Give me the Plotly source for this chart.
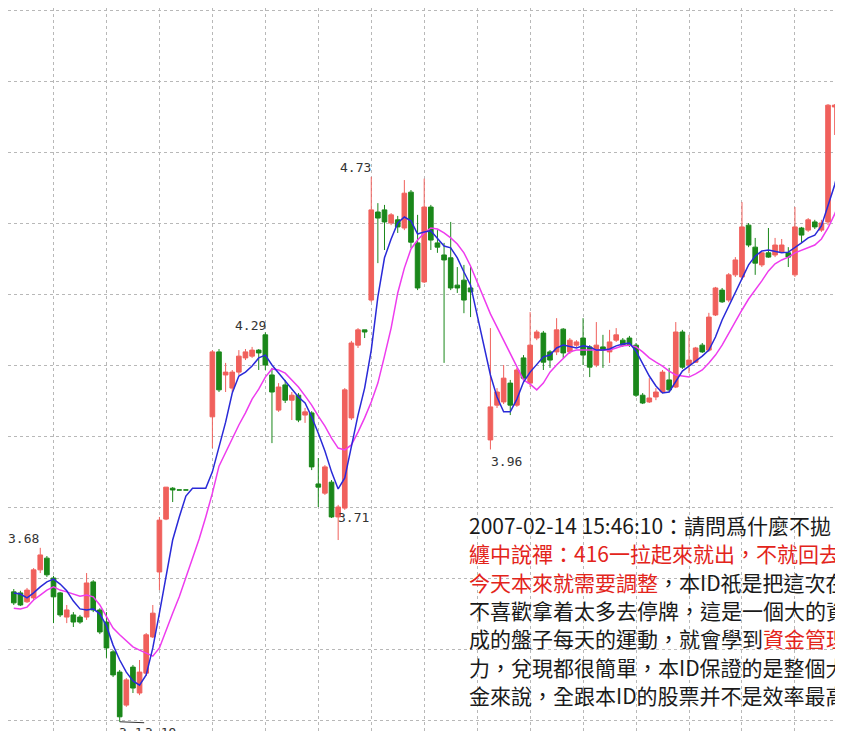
import plotly.graph_objects as go

# ---------------- data ----------------
day_index = list(range(126))

opens = [3.561,3.558,3.533,3.544,3.623,3.656,3.600,3.558,3.490,3.496,
         3.490,3.490,3.589,3.510,3.476,3.392,3.335,3.242,3.349,3.276,
         3.332,3.434,3.617,3.766,3.853,3.848,3.848,None,None,None,
         4.054,4.237,4.172,4.135,4.180,4.220,4.225,4.242,4.285,4.172,
         4.073,4.144,4.101,4.115,4.059,4.065,3.865,3.839,3.870,3.772,
         3.797,4.051,4.256,4.299,4.383,4.631,4.637,4.600,4.609,4.586,
         4.687,4.544,4.434,4.645,4.544,4.510,4.502,4.425,4.439,4.417,
         None,None,3.989,4.087,4.096,4.149,4.087,4.220,4.149,4.276,
         4.290,4.237,4.237,4.301,4.237,4.256,4.276,4.251,4.200,4.251,
         4.237,4.270,4.270,4.276,4.256,4.115,4.096,4.110,4.124,4.158,
         4.138,4.293,4.200,4.208,4.256,4.242,4.341,4.411,4.383,4.454,
         4.448,4.594,4.532,4.482,4.516,4.510,4.518,4.516,4.454,4.586,
         4.580,4.603,4.580,4.603,4.927,4.935]

highs = [3.569,3.564,3.572,3.628,3.685,3.662,3.606,3.561,3.524,3.504,
         3.496,3.614,3.594,3.515,3.504,3.397,3.341,3.318,3.355,3.369,
         3.445,3.524,3.772,3.856,3.856,3.848,3.848,None,None,None,
         4.242,4.245,4.206,4.186,4.242,4.245,4.251,4.245,4.292,4.192,
         4.149,4.158,4.124,4.121,4.079,4.070,3.938,3.918,3.876,3.806,
         4.135,4.268,4.304,4.299,4.730,4.656,4.651,4.628,4.620,4.721,
         4.693,4.623,4.725,4.651,4.580,4.544,4.603,4.476,4.482,4.476,
         None,None,4.304,4.135,4.200,4.158,4.192,4.228,4.349,4.299,
         4.296,4.242,4.332,4.304,4.276,4.270,4.332,4.256,4.321,4.285,
         4.299,4.304,4.276,4.282,4.262,4.121,4.163,4.135,4.186,4.192,
         4.321,4.299,4.285,4.251,4.262,4.347,4.420,4.417,4.459,4.504,
         4.659,4.600,4.558,4.518,4.586,4.558,4.555,4.532,4.645,4.589,
         4.614,4.609,4.609,4.935,4.935,4.935]

lows = [3.524,3.521,3.530,3.538,3.614,3.603,3.473,3.490,3.473,3.462,
        3.471,3.482,3.504,3.442,3.375,3.321,3.195,3.237,3.276,3.270,
        3.324,3.431,3.566,3.763,3.814,3.848,3.848,None,None,None,
        3.966,4.124,4.124,4.124,4.172,4.214,4.220,4.186,4.186,3.980,
        4.068,4.093,4.045,4.039,4.037,3.904,3.800,3.834,3.769,3.707,
        3.792,4.045,4.248,4.276,4.377,4.487,4.524,4.594,4.572,4.580,
        4.530,4.411,4.431,4.524,4.516,4.206,4.411,4.403,4.346,4.335,
        None,None,3.962,4.079,4.090,4.059,4.082,4.158,4.138,4.270,
        4.186,4.192,4.228,4.220,4.231,4.251,4.200,4.166,4.194,4.192,
        4.206,4.265,4.251,4.251,4.110,4.090,4.093,4.101,4.121,4.124,
        4.135,4.189,4.177,4.206,4.234,4.237,4.338,4.375,4.377,4.448,
        4.440,4.532,4.454,4.476,4.502,4.504,4.516,4.476,4.448,4.544,
        4.575,4.583,4.575,4.594,4.848,4.927]

closes = [3.530,3.524,3.566,3.623,3.665,3.609,3.547,3.496,3.510,3.476,
          3.476,3.586,3.510,3.448,3.403,3.327,3.209,3.313,3.290,3.335,
          3.440,3.501,3.763,3.856,3.848,3.848,3.848,None,None,None,
          4.237,4.130,4.180,4.180,4.225,4.237,4.242,4.234,4.200,4.124,
          4.138,4.101,4.115,4.045,4.068,3.913,3.856,3.913,3.772,3.800,
          4.130,4.262,4.299,4.293,4.637,4.614,4.603,4.623,4.589,4.684,
          4.546,4.417,4.645,4.552,4.532,4.496,4.417,4.417,4.383,4.406,
          None,None,4.082,4.124,4.163,4.087,4.186,4.163,4.256,4.293,
          4.208,4.214,4.299,4.234,4.270,4.265,4.228,4.194,4.256,4.242,
          4.265,4.285,4.256,4.256,4.115,4.093,4.107,4.124,4.180,4.130,
          4.293,4.194,4.214,4.248,4.237,4.335,4.417,4.378,4.454,4.496,
          4.589,4.538,4.487,4.516,4.504,4.538,4.538,4.504,4.589,4.566,
          4.609,4.589,4.600,4.932,4.932,4.930]

ma_short = [3.558,3.555,3.544,3.558,3.575,3.589,3.597,3.583,3.564,3.535,
            3.513,3.510,3.513,3.499,3.465,3.411,3.369,3.335,3.310,3.298,
            3.327,3.403,3.501,3.609,3.707,3.772,3.831,3.853,3.853,3.853,
            3.899,3.972,4.039,4.121,4.169,4.180,4.197,4.220,4.228,4.200,
            4.177,4.155,4.130,4.110,4.093,4.054,4.008,3.958,3.899,3.851,
            3.882,3.975,4.059,4.135,4.242,4.392,4.502,4.555,4.600,4.617,
            4.606,4.569,4.575,4.578,4.558,4.535,4.530,4.502,4.462,4.425,
            None,None,4.172,4.110,4.068,4.068,4.104,4.152,4.180,4.203,
            4.223,4.228,4.248,4.256,4.251,4.248,4.254,4.251,4.242,4.242,
            4.245,4.254,4.259,4.262,4.239,4.203,4.169,4.141,4.121,4.124,
            4.152,4.183,4.197,4.211,4.225,4.242,4.279,4.327,4.366,4.403,
            4.445,4.482,4.507,4.521,4.524,4.521,4.516,4.518,4.530,4.544,
            4.558,4.566,4.592,4.648,4.707,4.783]

ma_long = [3.515,3.513,3.518,3.538,3.552,3.566,3.575,3.566,3.561,3.555,
           3.549,3.552,3.547,3.524,3.493,3.459,3.440,3.423,3.406,3.397,
           3.389,3.380,3.403,3.454,3.501,3.547,3.600,3.656,3.710,3.772,
           3.839,3.915,3.955,3.994,4.031,4.065,4.104,4.132,4.166,4.189,
           4.186,4.177,4.158,4.138,4.113,4.087,4.056,4.028,3.994,3.966,
           3.961,3.975,4.011,4.051,4.096,4.149,4.225,4.304,4.403,4.473,
           4.527,4.552,4.572,4.586,4.583,4.572,4.558,4.541,4.516,4.479,
           None,None,4.344,4.307,4.270,4.231,4.197,4.158,4.146,4.130,
           4.149,4.180,4.200,4.220,4.237,4.242,4.242,4.242,4.242,4.242,
           4.242,4.248,4.254,4.256,4.251,4.237,4.220,4.208,4.197,4.183,
           4.172,4.169,4.166,4.175,4.186,4.206,4.228,4.256,4.290,4.324,
           4.355,4.386,4.411,4.437,4.465,4.485,4.496,4.504,4.516,4.524,
           4.530,4.538,4.555,4.586,4.625,4.670]

# price labels: (text, day index, price)
price_labels = [("3.68", 4, 3.685), ("4.29", 38, 4.292), ("4.73", 54, 4.730),
                ("3.71", 49, 3.707), ("3.96", 72, 3.962), ("3.19", 16, 3.195),
                ("3.1", 16, 3.195)]

text_lines = [
    '2007-02-14 15:46:10：請問爲什麼不拋',
    '<span style="color:#e3241b">纏中說禪：416一拉起來就出，不就回去</span>',
    '<span style="color:#e3241b">今天本來就需要調整</span>，本ID祇是把這次在',
    '不喜歡拿着太多去停牌，這是一個大的資',
    '成的盤子每天的運動，就會學到<span style="color:#e3241b">資金管理</span>',
    '力，兌現都很簡單，本ID保證的是整個大',
    '金來說，全跟本ID的股票并不是效率最高',
]

RED = "#f0605c"
GREEN = "#1a871a"
PAGE_OFF = 8  # the page body adds an 8px margin around the figure
W, H = 843, 731

fig = go.Figure()
fig.add_trace(go.Candlestick(
    x=day_index, open=opens, high=highs, low=lows, close=closes,
    increasing=dict(line=dict(color=RED, width=1), fillcolor=RED),
    decreasing=dict(line=dict(color=GREEN, width=1), fillcolor=GREEN),
    whiskerwidth=0, showlegend=False, hoverinfo="skip"))
fig.add_trace(go.Scatter(x=day_index, y=ma_long, mode="lines", connectgaps=True,
                         line=dict(color="#ee3cee", width=1.5), showlegend=False,
                         hoverinfo="skip"))
fig.add_trace(go.Scatter(x=day_index, y=ma_short, mode="lines", connectgaps=True,
                         line=dict(color="#2a2ad8", width=1.5), showlegend=False,
                         hoverinfo="skip"))

lab_font = dict(family="DejaVu Sans Mono", size=13, color="#333333")
anchors = {
    "3.68": dict(xanchor="right", yanchor="bottom", xshift=1, yshift=0),
    "4.29": dict(xanchor="right", yanchor="bottom", xshift=3, yshift=-3),
    "4.73": dict(xanchor="right", yanchor="bottom", xshift=2, yshift=0),
    "3.71": dict(xanchor="left", yanchor="bottom", xshift=-2, yshift=13),
    "3.96": dict(xanchor="left", yanchor="top", xshift=-1, yshift=-2),
    "3.19": dict(xanchor="left", yanchor="top", xshift=23, yshift=-1),
    "3.1": dict(xanchor="left", yanchor="top", xshift=-3, yshift=-1),
}
for txt, i, p in price_labels:
    fig.add_annotation(x=i, y=p, text=txt, showarrow=False, font=lab_font, **anchors[txt])
# leader line from the 3.19 low to its label
fig.add_annotation(x=16, y=3.195, text="", showarrow=True, arrowhead=0,
                   arrowwidth=1, arrowcolor="#333333", ax=26, ay=1,
                   standoff=0, startstandoff=0)

line_y = [525, 553, 582, 610, 638, 667, 695]
for t, yy in zip(text_lines, line_y):
    fig.add_annotation(xref="paper", yref="paper", x=(467 - PAGE_OFF) / W,
                       y=1 - (yy - PAGE_OFF) / H,
                       text=t, showarrow=False, xanchor="left", yanchor="middle",
                       align="left",
                       font=dict(family="Noto Sans CJK TC", size=21, color="#1a1a1a"))

fig.update_layout(
    width=W, height=H, margin=dict(l=0, r=0, t=0, b=0),
    paper_bgcolor="white", plot_bgcolor="white",
    boxgap=0.0,
    xaxis=dict(range=[-0.873, 126.47], showgrid=True, gridcolor="#b8b8b8",
               griddash="dot", gridwidth=1, tick0=6, dtick=8,
               showticklabels=False, ticks="", zeroline=False,
               rangeslider=dict(visible=False), showline=False),
    yaxis=dict(range=[3.1465, 5.2057], showgrid=True, gridcolor="#b8b8b8",
               griddash="dot", gridwidth=1, tick0=0, dtick=0.2,
               showticklabels=False, ticks="", zeroline=False, showline=False),
)
fig.write_html("out.html")
